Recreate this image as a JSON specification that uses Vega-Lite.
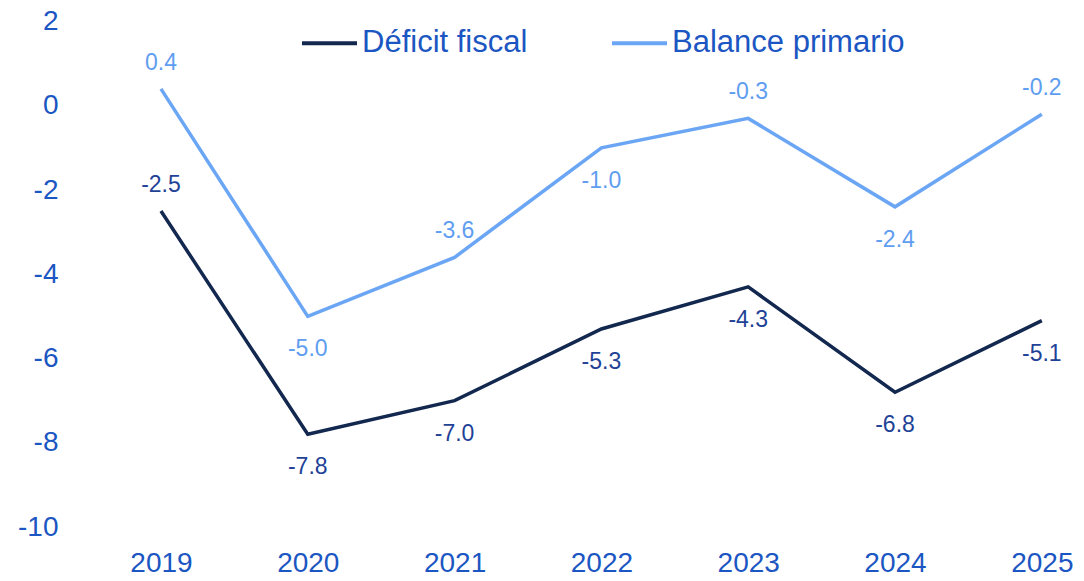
{
  "$schema": "https://vega.github.io/schema/vega-lite/v6.json",
  "width": 982,
  "height": 505.5,
  "autosize": "none",
  "padding": {"left": 88, "top": 21.5, "right": 14, "bottom": 54},
  "background": "white",
  "config": {
    "view": {"stroke": null},
    "font": "Liberation Sans",
    "locale": {"number": {"decimal": ".", "thousands": ",", "grouping": [3], "currency": ["$", ""], "minus": "-"}}
  },
  "data": {
    "values": [
      {"year": 2019, "serie": "Déficit fiscal", "value": -2.5},
      {"year": 2020, "serie": "Déficit fiscal", "value": -7.8},
      {"year": 2021, "serie": "Déficit fiscal", "value": -7.0},
      {"year": 2022, "serie": "Déficit fiscal", "value": -5.3},
      {"year": 2023, "serie": "Déficit fiscal", "value": -4.3},
      {"year": 2024, "serie": "Déficit fiscal", "value": -6.8},
      {"year": 2025, "serie": "Déficit fiscal", "value": -5.1},
      {"year": 2019, "serie": "Balance primario", "value": 0.4},
      {"year": 2020, "serie": "Balance primario", "value": -5.0},
      {"year": 2021, "serie": "Balance primario", "value": -3.6},
      {"year": 2022, "serie": "Balance primario", "value": -1.0},
      {"year": 2023, "serie": "Balance primario", "value": -0.3},
      {"year": 2024, "serie": "Balance primario", "value": -2.4},
      {"year": 2025, "serie": "Balance primario", "value": -0.2}
    ]
  },
  "encoding": {
    "x": {
      "field": "year", "type": "quantitative",
      "scale": {"domain": [2018.503, 2025.192], "nice": false, "zero": false},
      "axis": {"values": [2019, 2020, 2021, 2022, 2023, 2024, 2025], "format": "d", "title": null,
        "domain": false, "ticks": false, "grid": false, "labelFontSize": 28, "labelColor": "#1B56C2",
        "labelPadding": 22, "labelFont": "Liberation Sans"}
    },
    "y": {
      "field": "value", "type": "quantitative",
      "scale": {"domain": [-10, 2], "nice": false, "zero": false},
      "axis": {"values": [-10, -8, -6, -4, -2, 0, 2], "format": "d", "title": null, "domain": false, "ticks": false,
        "grid": false, "labelFontSize": 28, "labelColor": "#1B56C2", "labelPadding": 30,
        "labelFont": "Liberation Sans"}
    }
  },
  "resolve": {"scale": {"color": "independent"}},
  "layer": [
    {
      "mark": {"type": "line", "strokeWidth": 3.5},
      "encoding": {
        "color": {
          "field": "serie", "type": "nominal",
          "scale": {"domain": ["Déficit fiscal", "Balance primario"], "range": ["#13284F", "#6BA6F5"]},
          "legend": {
            "title": null, "orient": "none", "legendX": 212, "legendY": -8, "direction": "horizontal",
            "symbolType": "stroke", "symbolSize": 3025, "symbolStrokeWidth": 4, "labelFontSize": 31,
            "labelColor": "#1B56C2", "labelFont": "Liberation Sans", "columnPadding": 76, "labelOffset": 3,
            "labelLimit": 400, "symbolOffset": 0
          }
        }
      }
    },
    {
      "layer": [
        {
          "transform": [{"filter": "(datum.serie === 'Déficit fiscal' && datum.year === 2019) || (datum.serie === 'Balance primario' && (datum.year === 2019 || datum.year === 2021 || datum.year === 2023 || datum.year === 2025))"}],
          "mark": {"type": "text", "dy": -26, "fontSize": 23, "font": "Liberation Sans"},
          "encoding": {
            "text": {"field": "value", "type": "quantitative", "format": ".1f"},
            "color": {"field": "serie", "type": "nominal", "scale": {"domain": ["Déficit fiscal", "Balance primario"], "range": ["#1E4296", "#5F9DF0"]}, "legend": null}
          }
        },
        {
          "transform": [{"filter": "!((datum.serie === 'Déficit fiscal' && datum.year === 2019) || (datum.serie === 'Balance primario' && (datum.year === 2019 || datum.year === 2021 || datum.year === 2023 || datum.year === 2025)))"}],
          "mark": {"type": "text", "dy": 33, "fontSize": 23, "font": "Liberation Sans"},
          "encoding": {
            "text": {"field": "value", "type": "quantitative", "format": ".1f"},
            "color": {"field": "serie", "type": "nominal", "scale": {"domain": ["Déficit fiscal", "Balance primario"], "range": ["#1E4296", "#5F9DF0"]}, "legend": null}
          }
        }
      ]
    }
  ]
}
